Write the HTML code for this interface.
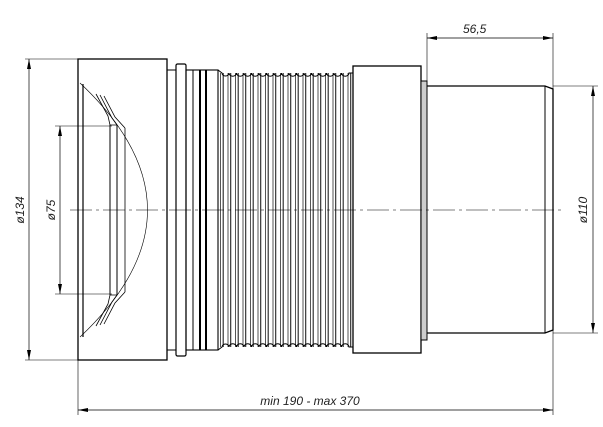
<!DOCTYPE html>
<html><head><style>html,body{margin:0;padding:0;background:#fff}svg{display:block}</style></head>
<body>
<svg width="603" height="427" viewBox="0 0 603 427" xmlns="http://www.w3.org/2000/svg" font-family="Liberation Sans, sans-serif">
<defs>
<pattern id="cor" x="218" y="0" width="7.5" height="10" patternUnits="userSpaceOnUse">
<line x1="2.5" y1="0" x2="2.5" y2="10" stroke="#555" stroke-width="1"/>
<line x1="5.2" y1="0" x2="5.2" y2="10" stroke="#222" stroke-width="1.1"/>
</pattern>
<marker id="ar" viewBox="0 0 10 4" refX="10" refY="2" markerWidth="10" markerHeight="4" orient="auto-start-reverse" markerUnits="userSpaceOnUse"><path d="M0,0 L10,2 L0,4z" fill="#000"/></marker>
</defs>
<g stroke="#000" fill="none" stroke-width="1">
<!-- extension lines -->
<line x1="25" y1="59" x2="78" y2="59" stroke-width="0.6"/>
<line x1="25" y1="360" x2="78" y2="360" stroke-width="0.6"/>
<line x1="55" y1="126" x2="112" y2="126" stroke-width="0.6"/>
<line x1="55" y1="294" x2="112" y2="294" stroke-width="0.6"/>
<line x1="78" y1="360" x2="78" y2="415" stroke-width="0.6"/>
<line x1="427" y1="33" x2="427" y2="81" stroke-width="0.6"/>
<line x1="553" y1="33" x2="553" y2="415" stroke-width="0.6"/>
<line x1="553" y1="86" x2="598" y2="86" stroke-width="0.6"/>
<line x1="553" y1="333" x2="598" y2="333" stroke-width="0.6"/>
<!-- dims -->
<line x1="29" y1="59" x2="29" y2="360" stroke-width="0.7" marker-start="url(#ar)" marker-end="url(#ar)"/>
<line x1="60" y1="126" x2="60" y2="294" stroke-width="0.7" marker-start="url(#ar)" marker-end="url(#ar)"/>
<line x1="427" y1="38" x2="553" y2="38" stroke-width="0.7" marker-start="url(#ar)" marker-end="url(#ar)"/>
<line x1="593" y1="86" x2="593" y2="333" stroke-width="0.7" marker-start="url(#ar)" marker-end="url(#ar)"/>
<line x1="78" y1="410" x2="553" y2="410" stroke-width="0.7" marker-start="url(#ar)" marker-end="url(#ar)"/>
<!-- flange -->
<rect x="78" y="59" width="89" height="301" stroke-width="1.3"/>
<path d="M80,83 Q215,210 80,337" stroke-width="0.6"/>
<line x1="83" y1="84" x2="83" y2="337" stroke-width="1.2"/>
<line x1="110" y1="125" x2="110" y2="295" stroke-width="1"/>
<line x1="117" y1="125" x2="117" y2="295" stroke-width="1"/>
<line x1="125" y1="128" x2="125" y2="292" stroke-width="0.8"/>
<path d="M96,94 L108,116 L110,125 L117,125 M100,95 L112,118 L117,125 M104,96 L115,117 L125,128" stroke-width="0.8"/>
<path d="M96,326 L108,304 L110,295 L117,295 M100,325 L112,302 L117,295 M104,324 L115,303 L125,292" stroke-width="0.8"/>
<!-- rings -->
<rect x="167" y="70" width="9" height="280" stroke-width="1"/>
<rect x="176" y="64" width="10" height="292" rx="1.5" stroke-width="1.2"/>
<rect x="186" y="70" width="32" height="280" stroke-width="1.1"/>
<line x1="193" y1="70" x2="193" y2="350" stroke-width="1"/>
<line x1="200" y1="70" x2="200" y2="350" stroke-width="2"/>
<line x1="206" y1="70" x2="206" y2="350" stroke-width="2"/>
<!-- corrugation -->
<rect x="218" y="73" width="135" height="274" fill="url(#cor)" stroke="none"/>
<path d="M218,70 L222,73 a3.5,3 0 0 0 7,0 a3.5,3 0 0 0 7.5,0 a3.5,3 0 0 0 7.5,0 a3.5,3 0 0 0 7.5,0 a3.5,3 0 0 0 7.5,0 a3.5,3 0 0 0 7.5,0 a3.5,3 0 0 0 7.5,0 a3.5,3 0 0 0 7.5,0 a3.5,3 0 0 0 7.5,0 a3.5,3 0 0 0 7.5,0 a3.5,3 0 0 0 7.5,0 a3.5,3 0 0 0 7.5,0 a3.5,3 0 0 0 7.5,0 a3.5,3 0 0 0 7.5,0 a3.5,3 0 0 0 7.5,0 a3.5,3 0 0 0 7.5,0 a3.5,3 0 0 0 7.5,0 L353,73" stroke-width="1"/>
<path d="M218,350 L222,347 a3.5,3 0 0 1 7,0 a3.5,3 0 0 1 7.5,0 a3.5,3 0 0 1 7.5,0 a3.5,3 0 0 1 7.5,0 a3.5,3 0 0 1 7.5,0 a3.5,3 0 0 1 7.5,0 a3.5,3 0 0 1 7.5,0 a3.5,3 0 0 1 7.5,0 a3.5,3 0 0 1 7.5,0 a3.5,3 0 0 1 7.5,0 a3.5,3 0 0 1 7.5,0 a3.5,3 0 0 1 7.5,0 a3.5,3 0 0 1 7.5,0 a3.5,3 0 0 1 7.5,0 a3.5,3 0 0 1 7.5,0 a3.5,3 0 0 1 7.5,0 a3.5,3 0 0 1 7.5,0 L353,347" stroke-width="1"/>
<line x1="218" y1="70" x2="218" y2="350" stroke-width="1"/>
<!-- right collar -->
<rect x="353" y="66" width="68" height="287" stroke-width="1.3"/>
<rect x="421" y="81" width="6" height="259" fill="#ccc" stroke-width="1"/>
<path d="M427,86 L545,86 L553,89 L553,330 L545,333 L427,333" stroke-width="1.3"/>
<line x1="545" y1="86" x2="545" y2="333" stroke-width="1"/>
<!-- center line -->
<line x1="70" y1="210" x2="562" y2="210" stroke-width="0.6" stroke-dasharray="22,4,3,4"/>
</g>
<g font-style="italic" font-size="12" fill="#222">
<text x="463" y="33">56,5</text>
<text x="310" y="405" text-anchor="middle">min 190 - max 370</text>
<text transform="translate(24,210) rotate(-90)" text-anchor="middle">ø134</text>
<text transform="translate(55,210) rotate(-90)" text-anchor="middle">ø75</text>
<text transform="translate(587,210) rotate(-90)" text-anchor="middle">ø110</text>
</g>
</svg>
</body></html>
